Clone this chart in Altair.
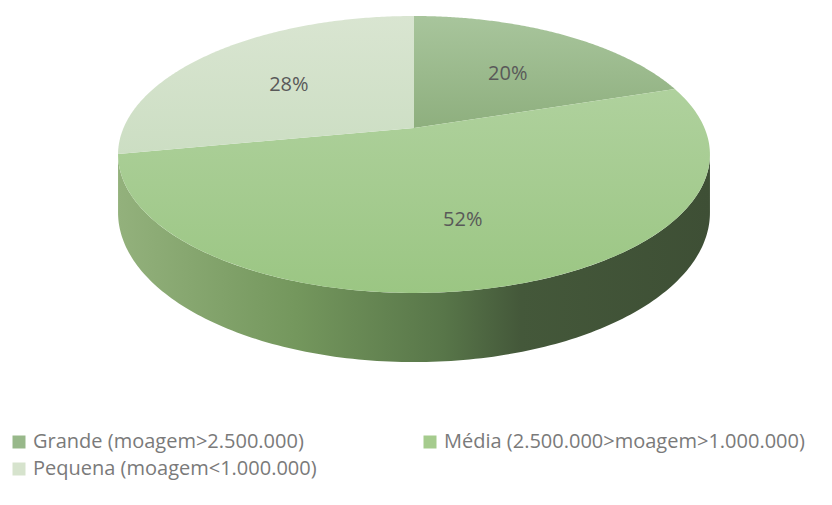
import math
import altair as alt
import pandas as pd

# ---- data ----
categories = [
    "Grande (moagem>2.500.000)",
    "Média (2.500.000>moagem>1.000.000)",
    "Pequena (moagem<1.000.000)",
]
shares = [20, 52, 28]

# ---- styling ----
legend_colors = ["#98b88a", "#a5cb8d", "#d6e3cd"]
top_grad = [("#a8c59c", "#8eaf7e"), ("#afd19d", "#9bc683"), ("#d9e5d1", "#ccdec3")]
side_stops = [(0.0, "#93b17c"), (0.3, "#74975d"), (0.55, "#587649"),
              (0.68, "#44583a"), (1.0, "#3e4f35")]

W, H = 816, 489
OFF = 8
CX, CY = 414 - OFF, 128 - OFF     # apex of the pie (perspective view)
RX, RY, P = 290.5, 133.4, 0.191   # radii and perspective factor
DEPTH = 56
N = 160


def proj(t, f=1.0):
    s = 1.0 / (1.0 + P * f * math.cos(t))
    return CX + RX * f * math.sin(t) * s, CY - RY * f * math.cos(t) * s, s


# cumulative angles (clockwise from 12 o'clock)
total = float(sum(shares))
bounds = [0.0]
for v in shares:
    bounds.append(bounds[-1] + v / total * 2 * math.pi)

# top faces
top_rows = []
for k, cat in enumerate(categories):
    a0, a1 = bounds[k], bounds[k + 1]
    top_rows.append({"cat": cat, "i": 0, "x": CX, "y": CY})
    for j in range(N + 1):
        t = a0 + (a1 - a0) * j / N
        x, y, _ = proj(t)
        top_rows.append({"cat": cat, "i": j + 1, "x": x, "y": y})
    top_rows.append({"cat": cat, "i": N + 2, "x": CX, "y": CY})
top_df = pd.DataFrame(top_rows)

# visible side (between the two silhouette points)
t_r = math.acos(-P)
t_l = 2 * math.pi - t_r
side_rows = []
for j in range(N + 1):
    t = t_r + (t_l - t_r) * j / N
    x, y, s = proj(t)
    side_rows.append({"x": x, "y": y, "y2": y + DEPTH * s})
side_df = pd.DataFrame(side_rows)

# labels
lab_rows = []
for k, cat in enumerate(categories):
    mid = (bounds[k] + bounds[k + 1]) / 2
    x, y, _ = proj(mid, 0.6)
    lab_rows.append({"cat": cat, "x": x, "y": y, "label": f"{shares[k]}%"})
lab_df = pd.DataFrame(lab_rows)

xs = alt.Scale(domain=[0, W], nice=False, zero=False)
ys = alt.Scale(domain=[0, H], nice=False, zero=False, reverse=True)
X = alt.X("x:Q", scale=xs, axis=None)
Y = alt.Y("y:Q", scale=ys, axis=None)


def vgrad(c0, c1):
    return alt.Gradient(gradient="linear", x1=0, y1=0, x2=0, y2=1,
                        stops=[alt.GradientStop(color=c0, offset=0),
                               alt.GradientStop(color=c1, offset=1)])


side_grad = alt.Gradient(gradient="linear", x1=0, y1=0, x2=1, y2=0,
                         stops=[alt.GradientStop(color=c, offset=o) for o, c in side_stops])

side = alt.Chart(side_df).mark_area(color=side_grad, strokeWidth=0).encode(
    x=X, y=Y, y2="y2:Q"
)

layers = [side]
for k, cat in enumerate(categories):
    layers.append(
        alt.Chart(top_df).transform_filter(alt.datum.cat == cat)
        .mark_line(fill=vgrad(*top_grad[k]), strokeWidth=0)
        .encode(x=X, y=Y, order="i:Q")
    )

labels = alt.Chart(lab_df).mark_text(
    font="Open Sans", fontSize=20, color="#595959", dy=5
).encode(x=X, y=Y, text="label:N")

legend_carrier = alt.Chart(lab_df).mark_square(size=0, opacity=0).encode(
    x=X, y=Y,
    color=alt.Color(
        "cat:N",
        sort=categories,
        scale=alt.Scale(domain=categories, range=legend_colors),
        legend=alt.Legend(
            title=None, orient="none", legendX=1, legendY=424,
            direction="horizontal", columns=2, columnPadding=103, rowPadding=7,
            symbolType="square", symbolSize=169, symbolStrokeWidth=0,
            symbolOpacity=1, labelFont="Open Sans", labelFontSize=20,
            labelColor="#7a7a7a", labelLimit=0, labelOffset=4, padding=0,
        ),
    ),
)

layers += [labels, legend_carrier]

chart = alt.layer(*layers).properties(
    width=W, height=H, padding=0, autosize=alt.AutoSizeParams(type="none"),
    background="white",
).configure_view(stroke=None)

chart.save("out.html", embed_options={"renderer": "svg", "actions": False})
